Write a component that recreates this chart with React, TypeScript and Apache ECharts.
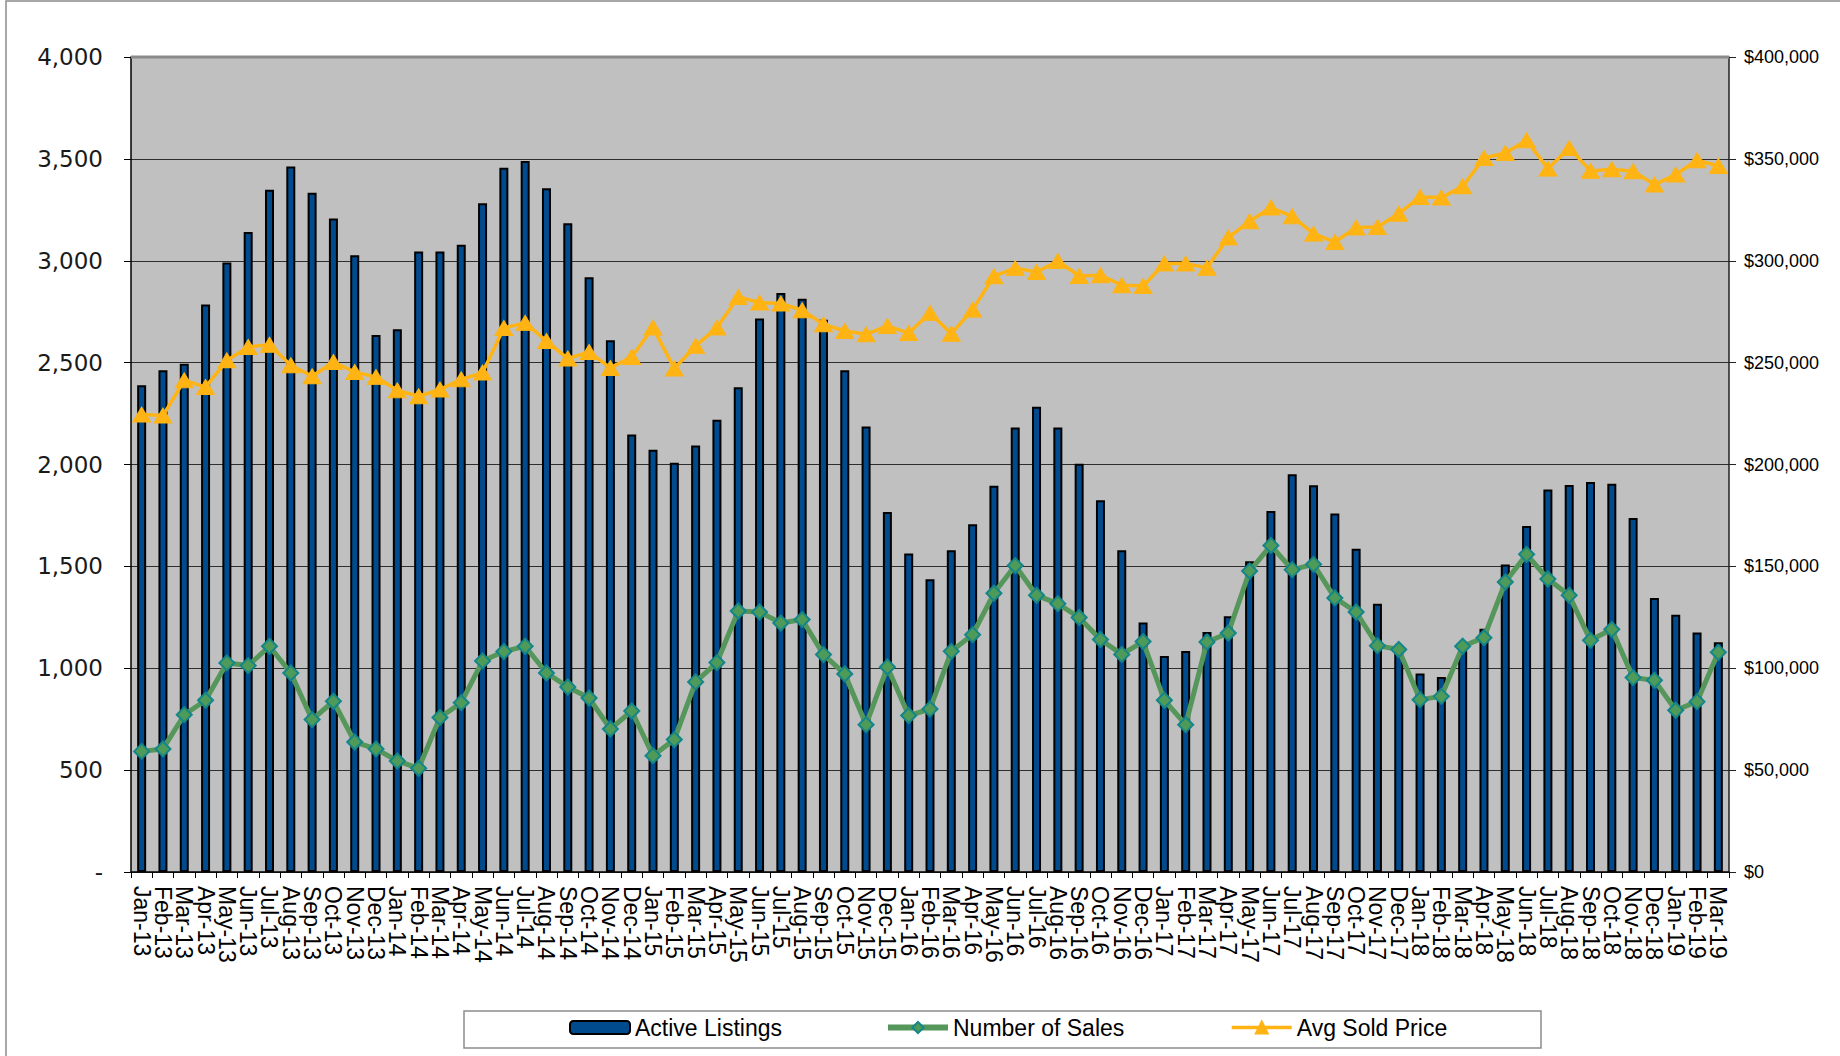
import React, { useEffect, useRef } from "react";
import * as echarts from "echarts";

const categories = [
  "Jan-13","Feb-13","Mar-13","Apr-13","May-13","Jun-13","Jul-13","Aug-13","Sep-13","Oct-13","Nov-13","Dec-13",
  "Jan-14","Feb-14","Mar-14","Apr-14","May-14","Jun-14","Jul-14","Aug-14","Sep-14","Oct-14","Nov-14","Dec-14",
  "Jan-15","Feb-15","Mar-15","Apr-15","May-15","Jun-15","Jul-15","Aug-15","Sep-15","Oct-15","Nov-15","Dec-15",
  "Jan-16","Feb-16","Mar-16","Apr-16","May-16","Jun-16","Jul-16","Aug-16","Sep-16","Oct-16","Nov-16","Dec-16",
  "Jan-17","Feb-17","Mar-17","Apr-17","May-17","Jun-17","Jul-17","Aug-17","Sep-17","Oct-17","Nov-17","Dec-17",
  "Jan-18","Feb-18","Mar-18","Apr-18","May-18","Jun-18","Jul-18","Aug-18","Sep-18","Oct-18","Nov-18","Dec-18",
  "Jan-19","Feb-19","Mar-19",
];

const activeListings = [
  2389, 2462, 2495, 2785, 2991, 3141, 3349, 3462, 3334, 3207, 3027, 2636,
  2664, 3045, 3045, 3078, 3282, 3457, 3490, 3356, 3184, 2919, 2610, 2147,
  2073, 2008, 2093, 2220, 2379, 2716, 2842, 2814, 2711, 2462, 2187, 1767,
  1563, 1437, 1579, 1707, 1896, 2181, 2284, 2181, 2004, 1824, 1579, 1224,
  1060, 1085, 1178, 1255, 1525, 1772, 1952, 1898, 1760, 1587, 1317, 1100,
  974, 957, 1085, 1194, 1509, 1698, 1877, 1899, 1914, 1906, 1737, 1345,
  1263, 1176, 1127,
];

const numberOfSales = [
  592, 604, 772, 843, 1026, 1013, 1108, 977, 748, 838, 638, 604,
  545, 509, 758, 831, 1036, 1082, 1108, 977, 908, 854, 702, 790,
  571, 650, 933, 1028, 1281, 1276, 1222, 1239, 1067, 972, 723, 1006,
  768, 800, 1083, 1165, 1368, 1504, 1358, 1317, 1249, 1141, 1068, 1131,
  843, 723, 1129, 1173, 1477, 1603, 1484, 1510, 1345, 1276, 1111, 1092,
  846, 862, 1108, 1150, 1423, 1559, 1438, 1358, 1137, 1191, 954, 941,
  794, 836, 1078,
];

const avgSoldPrice = [
  224500, 224000, 241300, 238000, 251100, 257700, 258800, 248700, 243300, 250300, 245400, 242900,
  236400, 233500, 236800, 241800, 245100, 267000, 269500, 260600, 252000, 255200, 247400, 252800,
  267200, 247100, 258200, 267200, 282200, 279500, 279000, 275700, 268800, 265500, 263900, 268000,
  264500, 274400, 264200, 276000, 292400, 296400, 294500, 299900, 292500, 292900, 288000, 287600,
  298600, 298600, 296600, 311400, 319400, 326100, 321800, 313300, 309200, 316300, 316600, 323100,
  331300, 331000, 336500, 350400, 352900, 359100, 345200, 355300, 344100, 344900, 343900, 337400,
  342300, 349300, 346500,
];

const leftTicks = { min: 0, max: 4000, interval: 500 };
const rightTicks = { min: 0, max: 400000, interval: 50000 };

const fmt = (v: number) => v.toString().replace(/\B(?=(\d{3})+(?!\d))/g, ",");

export default function App() {
  const ref = useRef<HTMLDivElement>(null);
  useEffect(() => {
    if (!ref.current) return;
    const chart = echarts.init(ref.current, null, { renderer: "svg" });
    const gridLeft = 131;
    const gridRight = 111;
    const gridTop = 57;
    const gridBottom = 184;
    const legendText = { fontFamily: "Liberation Sans, Arial, sans-serif", fontSize: 23, color: "#000" };
    chart.setOption({
      animation: false,
      backgroundColor: "#ffffff",
      grid: {
        left: gridLeft,
        right: gridRight,
        top: gridTop,
        bottom: gridBottom,
        show: true,
        backgroundColor: "#C0C0C0",
        borderWidth: 0,
      },
      graphic: [
        {
          type: "rect",
          shape: { x: 6, y: 1, width: 1900, height: 1200 },
          style: { fill: "none", stroke: "#8c8c8c", lineWidth: 1.5 },
          silent: true,
        },
        {
          type: "rect",
          shape: { x: 464, y: 1011, width: 1077, height: 37 },
          style: { fill: "#ffffff", stroke: "#8c8c8c", lineWidth: 1.5 },
          silent: true,
          z: -1,
        },
        {
          type: "line",
          shape: { x1: gridLeft, y1: gridTop, x2: 1840 - gridRight, y2: gridTop },
          style: { stroke: "#8a8a8a", lineWidth: 3 },
          silent: true,
          z: 10,
        },
      ],
      legend: [
        {
          data: ["Active Listings"],
          left: 569,
          top: 1016,
          padding: 0,
          itemWidth: 60,
          itemHeight: 13,
          textStyle: legendText,
        },
        {
          data: ["Number of Sales"],
          left: 885,
          top: 1016,
          padding: 0,
          itemWidth: 60,
          itemHeight: 14,
          lineStyle: { color: "#55965A", width: 6 },
          textStyle: legendText,
        },
        {
          data: ["Avg Sold Price"],
          left: 1230,
          top: 1016,
          padding: 0,
          itemWidth: 60,
          itemHeight: 15,
          lineStyle: { color: "#FFB414", width: 3.5 },
          textStyle: legendText,
        },
      ],
      xAxis: {
        type: "category",
        data: categories,
        boundaryGap: true,
        axisLine: { show: true, lineStyle: { color: "#000", width: 1.5 } },
        axisTick: { show: true, interval: 0, length: 6, lineStyle: { color: "#000" } },
        axisLabel: {
          interval: 0,
          rotate: -90,
          margin: 14,
          fontFamily: "Liberation Sans, Arial, sans-serif",
          fontSize: 23,
          color: "#000",
        },
        splitLine: { show: false },
      },
      yAxis: [
        {
          type: "value",
          min: leftTicks.min,
          max: leftTicks.max,
          interval: leftTicks.interval,
          axisLine: { show: true, lineStyle: { color: "#000", width: 1.5 } },
          axisTick: { show: true, length: 7, lineStyle: { color: "#000" } },
          axisLabel: {
            margin: 28,
            fontFamily: "DejaVu Sans, sans-serif",
            fontSize: 23,
            color: "#1a1a1a",
            formatter: (v: number) => (v === 0 ? "-" : fmt(v)),
          },
          splitLine: { show: true, lineStyle: { color: "#2e2e2e", width: 1 } },
        },
        {
          type: "value",
          position: "right",
          min: rightTicks.min,
          max: rightTicks.max,
          interval: rightTicks.interval,
          axisLine: { show: true, lineStyle: { color: "#222", width: 1.5 } },
          axisTick: { show: true, length: 7, lineStyle: { color: "#222" } },
          axisLabel: {
            margin: 15,
            fontFamily: "Liberation Sans, Arial, sans-serif",
            fontSize: 18,
            color: "#000",
            formatter: (v: number) => "$" + fmt(v),
          },
          splitLine: { show: false },
        },
      ],
      series: [
        {
          name: "Active Listings",
          type: "bar",
          yAxisIndex: 0,
          data: activeListings,
          barWidth: 9,
          itemStyle: { color: "#004B8D", borderColor: "#000", borderWidth: 2 },
          z: 2,
        },
        {
          name: "Number of Sales",
          type: "line",
          yAxisIndex: 0,
          data: numberOfSales,
          symbol: "diamond",
          symbolSize: [15, 15],
          lineStyle: { color: "#55965A", width: 5 },
          itemStyle: { color: "#4E9A58", borderColor: "#14868A", borderWidth: 2 },
          z: 4,
        },
        {
          name: "Avg Sold Price",
          type: "line",
          yAxisIndex: 1,
          data: avgSoldPrice,
          symbol: "triangle",
          symbolSize: [18, 15],
          lineStyle: { color: "#FFB414", width: 3.5 },
          itemStyle: { color: "#FFB414", borderColor: "#FFB414", borderWidth: 1 },
          z: 5,
        },
      ],
    });
    return () => chart.dispose();
  }, []);
  return (
    <div
      ref={ref}
      style={{ position: "fixed", left: 0, top: 0, width: 1840, height: 1056 }}
    />
  );
}
